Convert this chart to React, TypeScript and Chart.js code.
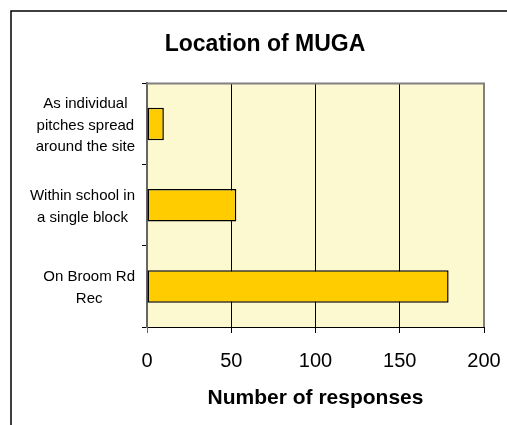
import React, { useEffect, useRef } from 'react';
import { Chart, registerables } from 'chart.js';

Chart.register(...registerables);

const categories: string[][] = [
  ['As individual', 'pitches spread', 'around the site'],
  ['Within school in', 'a single block'],
  ['On Broom Rd', 'Rec'],
];
const responses: number[] = [10, 53, 179];
const xTicks: number[] = [0, 50, 100, 150, 200];
const chartTitle = 'Location of MUGA';
const xAxisTitle = 'Number of responses';

const FONT = "'Liberation Sans', Arial, sans-serif";

export default function App() {
  const ref = useRef<HTMLCanvasElement>(null);

  useEffect(() => {
    const canvas = ref.current;
    if (!canvas) return;

    const excelLook = {
      id: 'excelLook',
      beforeDraw(chart: any) {
        const { ctx, chartArea: a, width, height } = chart;
        ctx.save();
        ctx.fillStyle = '#ffffff';
        ctx.fillRect(0, 0, width, height);
        ctx.fillStyle = '#FCF9D1';
        ctx.fillRect(a.left, a.top, a.right - a.left, a.bottom - a.top);
        // outer chart frame (continues beyond the visible window)
        ctx.strokeStyle = '#000';
        ctx.lineWidth = 1.5;
        ctx.beginPath();
        ctx.moveTo(1, height);
        ctx.lineTo(1, 1);
        ctx.lineTo(width, 1);
        ctx.stroke();
        ctx.restore();
      },
      beforeDatasetsDraw(chart: any) {
        const { ctx, chartArea: a } = chart;
        ctx.save();
        ctx.strokeStyle = '#808080';
        ctx.lineWidth = 2;
        ctx.beginPath();
        ctx.moveTo(a.left, a.top);
        ctx.lineTo(a.right, a.top);
        ctx.lineTo(a.right, a.bottom);
        ctx.stroke();
        ctx.restore();
      },
      afterDraw(chart: any) {
        const scale = chart.scales.y;
        const { ctx } = chart;
        ctx.save();
        ctx.font = `15px ${FONT}`;
        ctx.fillStyle = '#000';
        ctx.textAlign = 'center';
        ctx.textBaseline = 'middle';
        const lh = 21.5;
        const right = chart.chartArea.left - 12;
        (chart.data.labels as string[][]).forEach((lines, i) => {
          const cy = scale.getPixelForValue(i) + 1.5;
          const w = Math.max(...lines.map((l) => ctx.measureText(l).width));
          const cx = right - w / 2;
          lines.forEach((l, j) => {
            ctx.fillText(l, cx, cy + (j - (lines.length - 1) / 2) * lh);
          });
        });
        ctx.restore();
      },
    };

    const chart = new Chart(canvas, {
      type: 'bar',
      data: {
        labels: categories as any,
        datasets: [
          {
            data: responses,
            backgroundColor: '#FFCC00',
            borderColor: '#000000',
            borderWidth: 1.5,
            borderSkipped: false,
            barPercentage: 0.4,
            categoryPercentage: 1,
          },
        ],
      },
      options: {
        indexAxis: 'y',
        responsive: false,
        animation: false,
        devicePixelRatio: 1,
        layout: { padding: { left: 36, right: 33, top: 0, bottom: 14 } },
        plugins: {
          legend: { display: false },
          tooltip: { enabled: false },
          title: {
            display: true,
            text: chartTitle,
            color: '#000',
            font: { family: FONT, size: 23, weight: 'bold', lineHeight: 1.2 },
            padding: { top: 20.6, bottom: 25.2 },
          },
        },
        scales: {
          x: {
            type: 'linear',
            min: 0,
            max: 200,
            afterBuildTicks(scale: any) {
              scale.ticks = xTicks.map((v) => ({ value: v }));
            },
            afterFit(scale: any) {
              scale.height = 84;
            },
            ticks: {
              color: '#000',
              font: { family: FONT, size: 20, lineHeight: 1.2 },
              padding: 16,
              maxRotation: 0,
            },
            grid: {
              color: (c: any) => (c.tick && c.tick.value === 0 ? 'rgba(0,0,0,0)' : '#000'),
              tickColor: (c: any) => (c.tick && c.tick.value === 0 ? '#666' : '#000'),
              tickLength: 6,
              lineWidth: 1,
            },
            border: { color: '#000', width: 1 },
            title: {
              display: true,
              text: xAxisTitle,
              color: '#000',
              font: { family: FONT, size: 21, weight: 'bold', lineHeight: 1.2 },
              padding: { top: 0, bottom: 0 },
            },
          },
          y: {
            type: 'category',
            afterFit(scale: any) {
              scale.width = 101;
            },
            ticks: {
              color: 'rgba(0,0,0,0)',
              font: { family: FONT, size: 15 },
            },
            grid: {
              drawOnChartArea: false,
              drawTicks: true,
              tickLength: 5,
              color: '#000',
              tickColor: '#000',
            },
            border: { color: '#666', width: 2 },
          },
        },
      },
      plugins: [excelLook],
    } as any);

    return () => chart.destroy();
  }, []);

  return (
    <div
      style={{
        position: 'fixed',
        left: 0,
        top: 0,
        width: 507,
        height: 425,
        overflow: 'hidden',
        background: '#fff',
      }}
    >
      <canvas
        ref={ref}
        width={507}
        height={415}
        style={{
          position: 'absolute',
          left: 10,
          top: 10,
          width: 507,
          height: 415,
          display: 'block',
        }}
      />
    </div>
  );
}
